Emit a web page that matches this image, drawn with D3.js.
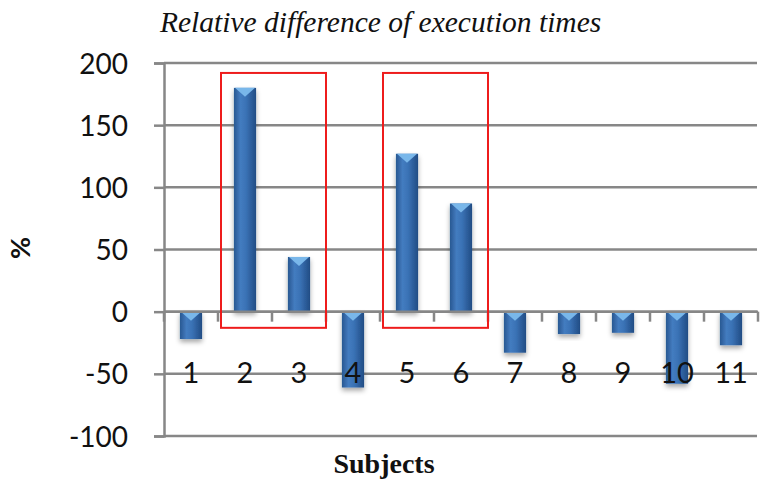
<!DOCTYPE html>
<html>
<head>
<meta charset="utf-8">
<script src="https://cdn.jsdelivr.net/npm/d3@7"></script>
<style>
  body { margin: 0; background: #fff; }
  svg { display: block; }
</style>
</head>
<body>
<div id="chart"></div>
<script>
// data
var subjects = ["1","2","3","4","5","6","7","8","9","10","11"];
var relDiff = [-22, 180, 44, -61, 127, 87, -33, -18, -17, -58, -27];
var yTicks = [-100, -50, 0, 50, 100, 150, 200];
// highlighted groups (first and last subject of each box)
var boxGroups = [["2","3"], ["5","6"]];

var width = 760, height = 479;

var svg = d3.select("#chart").append("svg")
            .attr("width", width)
            .attr("height", height);

var defs = svg.append("defs");

var grad = defs.append("linearGradient")
               .attr("id", "barGrad")
               .attr("x1", "0%").attr("x2", "100%")
               .attr("y1", "0%").attr("y2", "0%");
grad.append("stop").attr("offset", "0%").attr("stop-color", "#295892");
grad.append("stop").attr("offset", "30%").attr("stop-color", "#437cc0");
grad.append("stop").attr("offset", "55%").attr("stop-color", "#3a72b5");
grad.append("stop").attr("offset", "100%").attr("stop-color", "#214c84");

var shadow = defs.append("filter")
                 .attr("id", "shadow")
                 .attr("x", "-50%").attr("y", "-20%")
                 .attr("width", "200%").attr("height", "150%");
shadow.append("feDropShadow")
      .attr("dx", 0).attr("dy", 3)
      .attr("stdDeviation", 2.5)
      .attr("flood-color", "#000")
      .attr("flood-opacity", 0.35);

var x = d3.scaleBand()
          .domain(subjects)
          .range([164, 758])
          .paddingInner(0.59)
          .paddingOuter(0.295);

var y = d3.scaleLinear()
          .domain([-100, 200])
          .range([436, 63]);

var gridColor = "#878787";

// gridlines
svg.append("g")
   .selectAll("line")
   .data(yTicks)
   .enter()
   .append("line")
   .attr("x1", 164)
   .attr("x2", 757)
   .attr("y1", function(d){ return y(d); })
   .attr("y2", function(d){ return y(d); })
   .attr("stroke", gridColor)
   .attr("stroke-width", 2.5);

// y axis
var yAxis = svg.append("g")
               .attr("transform", "translate(164,0)")
               .call(d3.axisLeft(y)
                       .tickValues(yTicks)
                       .tickFormat(function(d){ return String(d); })
                       .tickSize(10)
                       .tickPadding(26));
yAxis.select(".domain").attr("stroke", gridColor).attr("stroke-width", 2.5);
yAxis.selectAll(".tick line").attr("stroke", gridColor).attr("stroke-width", 2.5);
yAxis.selectAll("text")
     .attr("font-family", "Lato, 'Open Sans', sans-serif")
     .attr("font-size", "28px")
     .attr("fill", "#111")
     .attr("dy", "0.36em");

// bars
var bars = svg.append("g")
              .selectAll("g")
              .data(relDiff)
              .enter()
              .append("g")
              .attr("filter", "url(#shadow)");

bars.append("rect")
    .attr("x", function(d, i){ return x(subjects[i]); })
    .attr("y", function(d){ return y(Math.max(0, d)); })
    .attr("width", x.bandwidth())
    .attr("height", function(d){ return Math.abs(y(d) - y(0)); })
    .attr("fill", "url(#barGrad)");

// light bevel triangle on top of each bar
bars.append("path")
    .attr("d", function(d, i){
        var x0 = x(subjects[i]), w = x.bandwidth(), t = y(Math.max(0, d));
        return "M" + (x0 + 1) + "," + t + "L" + (x0 + w - 1) + "," + t +
               "L" + (x0 + w / 2) + "," + (t + 9) + "Z";
    })
    .attr("fill", "#79b7ea");

// zero axis line with ticks at band edges
var edges = subjects.map(function(s){ return x(s) - x.step() * x.paddingInner() / 2; });
edges.push(758);
svg.append("line")
   .attr("x1", 164).attr("x2", 758)
   .attr("y1", y(0)).attr("y2", y(0))
   .attr("stroke", gridColor).attr("stroke-width", 2.5);
svg.append("g")
   .selectAll("line")
   .data(edges)
   .enter()
   .append("line")
   .attr("x1", function(d){ return d; })
   .attr("x2", function(d){ return d; })
   .attr("y1", y(0))
   .attr("y2", y(0) + 10)
   .attr("stroke", gridColor)
   .attr("stroke-width", 2.5);

// category labels
svg.append("g")
   .selectAll("text")
   .data(subjects)
   .enter()
   .append("text")
   .attr("x", function(d){ return x(d) + x.bandwidth() / 2; })
   .attr("y", y(-50) + 9)
   .attr("text-anchor", "middle")
   .attr("font-family", "Lato, 'Open Sans', sans-serif")
   .attr("font-size", "29px")
   .attr("fill", "#111")
   .text(function(d){ return d; });

// red highlight boxes
svg.append("g")
   .selectAll("rect")
   .data(boxGroups)
   .enter()
   .append("rect")
   .attr("x", function(d){ return x(d[0]) - x.step() * x.paddingInner() / 2 + 3; })
   .attr("y", y(192))
   .attr("width", function(d){ return x(d[1]) - x(d[0]) + x.step() - 3; })
   .attr("height", y(-13) - y(192))
   .attr("fill", "none")
   .attr("stroke", "#ee1c1c")
   .attr("stroke-width", 2);

// title
svg.append("text")
   .attr("x", 160)
   .attr("y", 32)
   .attr("font-family", "'Liberation Serif', 'Times New Roman', serif")
   .attr("font-style", "italic")
   .attr("font-size", "29.5px")
   .attr("fill", "#111")
   .text("Relative difference of execution times");

// y axis title
svg.append("text")
   .attr("transform", "translate(30,248) rotate(-90)")
   .attr("text-anchor", "middle")
   .attr("font-family", "Lato, 'Open Sans', sans-serif")
   .attr("font-weight", "bold")
   .attr("font-size", "27px")
   .attr("fill", "#111")
   .text("%");

// x axis title
svg.append("text")
   .attr("x", 384)
   .attr("y", 473)
   .attr("text-anchor", "middle")
   .attr("font-family", "'Liberation Serif', 'Times New Roman', serif")
   .attr("font-weight", "bold")
   .attr("font-size", "28px")
   .attr("fill", "#111")
   .text("Subjects");
</script>
</body>
</html>
